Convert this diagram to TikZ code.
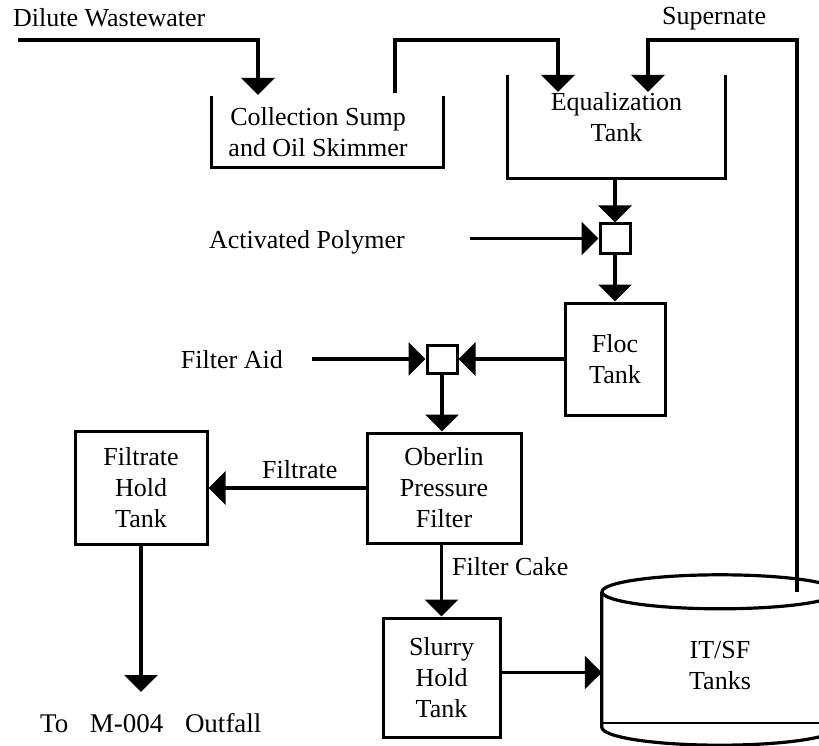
\documentclass[tikz,border=0pt]{standalone}
\usepackage{fontspec}
\setmainfont{Liberation Serif}
\usetikzlibrary{arrows.meta}
\begin{document}
\begin{tikzpicture}[x=1pt,y=-1pt,
  txt/.style={font=\fontsize{26}{31}\selectfont, inner sep=0pt, align=center},
  lab/.style={font=\fontsize{26}{31}\selectfont, inner sep=0pt},
  proc/.style={txt, draw, line width=3pt},
  mixer/.style={draw, line width=3pt, inner sep=0pt, minimum width=30pt, minimum height=29pt},
  ghost/.style={draw=none, inner sep=0pt},
  pipe/.style={line width=3.2pt},
  flow/.style={pipe, -{Triangle[width=33pt,length=17pt]}},
]
\useasboundingbox (0,0) rectangle (819,746);

% open tanks
\node[ghost, minimum width=231pt, minimum height=71pt] (sump) at (327.5,131.5) {};
\node[txt] (sumptext) at (318,132) {Collection Sump\\and Oil Skimmer};
\draw[pipe] (sump.north west) |- (sump.south east) -- (sump.north east);

\node[ghost, minimum width=217pt, minimum height=103pt] (eq) at (616.5,126.5) {};
\node[txt] (eqtext) at (616.5,117) {Equalization\\Tank};
\draw[pipe] (eq.north west) |- (eq.south east) -- (eq.north east);

% process units
\node[mixer] (mix1) at (615,238.5) {};
\node[proc, minimum width=100pt, minimum height=112pt] (floc) at (615,359) {Floc\\Tank};
\node[mixer, minimum height=28pt] (mix2) at (442,359) {};
\node[proc, minimum width=154pt, minimum height=110pt] (ober) at (444,488) {Oberlin\\Pressure\\Filter};
\node[proc, minimum width=132pt, minimum height=113pt] (fht) at (141,488) {Filtrate\\Hold\\Tank};
\node[proc, minimum width=117pt, minimum height=119pt] (slurry) at (441.5,677.5) {Slurry\\Hold\\Tank};

% IT/SF tanks (cylinder)
\node[ghost, minimum width=236pt, minimum height=135pt] (cyl) at (720,659.5) {};
\draw[pipe] (cyl.north west) -- (cyl.south west) arc[start angle=180, end angle=360, x radius=118pt, y radius=18pt] -- (cyl.north east);
\draw[pipe] (cyl.north) ellipse[x radius=118pt, y radius=17pt];
\draw[line width=2.4pt] ([yshift=4pt]cyl.south west) -- ([yshift=4pt]cyl.south east);
\node[txt] (cyltext) at (720,666) {IT/SF\\Tanks};

% labels
\node[lab, anchor=base west] (dw) at (13,27) {Dilute Wastewater};
\node[lab, anchor=base west] (sup) at (662,25) {Supernate};
\node[lab, anchor=base east] (poly) at (405,248) {Activated Polymer};
\node[lab, anchor=base east] (faid) at (283,368) {Filter Aid};
\node[lab, anchor=base west] (flab) at (262,478) {Filtrate};
\node[lab, anchor=base west] (fclab) at (452,575) {Filter Cake};
\node[lab, anchor=base west, font=\fontsize{27}{31}\selectfont] (out) at (40,732) {To\hspace{0.8em}M-004\hspace{0.8em}Outfall};

% free ends
\coordinate (dwstart) at (18,40);
\coordinate (sumpin) at (258,95);
\coordinate (sumpout) at (395,93);
\coordinate (eqin1) at (558,92);
\coordinate (eqin2) at (648,92);
\coordinate (cylout) at (797,592);
\coordinate (polystart) at (470,238.5);
\coordinate (faidstart) at (312,359);
\coordinate (outend) at (141,692);

% connectors
\draw[flow] (dwstart) -| (sumpin);
\draw[flow] (sumpout) -- ++(0,-53) -| (eqin1);
\draw[flow] (cylout) -- ++(0,-552) -| (eqin2);
\draw[flow] (eq.south -| mix1) -- (mix1.north);
\draw[flow] (polystart) -- (mix1.west);
\draw[flow] (mix1.south) -- (floc.north);
\draw[flow] (floc.west) -- (mix2.east);
\draw[flow] (faidstart) -- (mix2.west);
\draw[flow] (mix2.south) -- (mix2.south |- ober.north);
\draw[flow] (ober.west) -- (fht.east);
\draw[flow] (fht.south) -- (outend);
\draw[flow] (ober.south -| slurry.north) -- (slurry.north);
\draw[flow] ([yshift=5pt]slurry.east) -- ([yshift=5pt]slurry.east -| cyl.west);
\end{tikzpicture}
\end{document}
